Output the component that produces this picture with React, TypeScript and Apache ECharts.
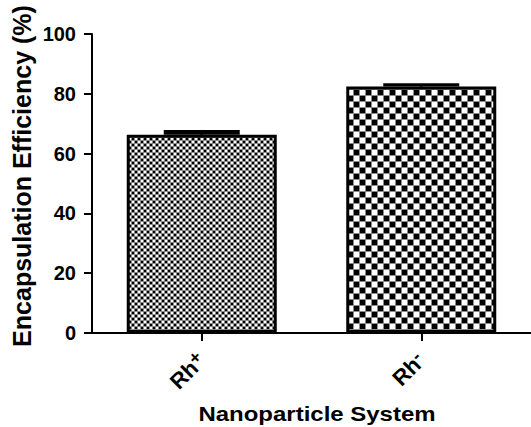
import React, { useEffect, useRef } from "react";
import * as echarts from "echarts";

const categories = ["Rh+", "Rh-"];
const labelText = ["Rh{sup|+}", "Rh{sup|-}"];
const values = [66.3, 82.4];
const errors = [1.1, 0.6];
const yTicks = { min: 0, max: 100, interval: 20 };

function makeTile(cell: number): HTMLCanvasElement {
  const c = document.createElement("canvas");
  c.width = cell * 2;
  c.height = cell * 2;
  const ctx = c.getContext("2d")!;
  ctx.fillStyle = "#ffffff";
  ctx.fillRect(0, 0, cell * 2, cell * 2);
  ctx.fillStyle = "#000000";
  ctx.fillRect(0, 0, cell, cell);
  ctx.fillRect(cell, cell, cell, cell);
  ctx.fillStyle = "#8a8a8a";
  ctx.fillRect(cell - 1, 0, 1, cell * 2);
  ctx.fillRect(cell * 2 - 1, 0, 1, cell * 2);
  ctx.fillRect(0, cell - 1, cell * 2, 1);
  ctx.fillRect(0, cell * 2 - 1, cell * 2, 1);
  return c;
}

export default function App() {
  const ref = useRef<HTMLDivElement>(null);
  useEffect(() => {
    if (!ref.current) return;
    const chart = echarts.init(ref.current, null, { renderer: "svg" });
    const fine = makeTile(3);
    const coarse = makeTile(6);
    const patterns = [
      { image: fine, repeat: "repeat", imageWidth: 6, imageHeight: 6 },
      { image: coarse, repeat: "repeat", imageWidth: 12, imageHeight: 12 },
    ];
    const font = "'Liberation Sans', Arial, sans-serif";
    chart.setOption({
      animation: false,
      textStyle: { fontFamily: font },
      grid: { left: 92, top: 34, width: 449, height: 299, containLabel: false },
      xAxis: {
        type: "category",
        data: categories,
        axisLine: { show: true, lineStyle: { color: "#000", width: 2 } },
        axisTick: { show: true, alignWithLabel: true, length: 8, lineStyle: { color: "#000", width: 2 } },
        axisLabel: {
          rotate: 45,
          margin: 24,
          color: "#000",
          fontFamily: font,
          fontWeight: "bold",
          fontSize: 22,
          formatter: (_v: string, i: number) => labelText[i],
          rich: {
            sup: {
              fontSize: 18,
              fontWeight: "bold",
              fontFamily: font,
              color: "#000",
              verticalAlign: "bottom",
              padding: [0, 0, 9, 0],
            },
          },
        },
      },
      yAxis: {
        type: "value",
        min: yTicks.min,
        max: yTicks.max,
        interval: yTicks.interval,
        splitLine: { show: false },
        axisLine: { show: true, lineStyle: { color: "#000", width: 2 } },
        axisTick: { show: true, length: 8, lineStyle: { color: "#000", width: 2 } },
        axisLabel: { color: "#000", fontFamily: font, fontWeight: "bold", fontSize: 20, margin: 16 },
      },
      graphic: [
        {
          type: "text",
          x: 34,
          y: 176,
          rotation: Math.PI / 2,
          style: {
            text: "Encapsulation Efficiency (%)",
            font: `bold 25px ${font}`,
            fill: "#000",
            align: "center",
            verticalAlign: "bottom",
          },
        },
        {
          type: "text",
          x: 317,
          y: 414,
          scaleX: 1.17,
          style: {
            text: "Nanoparticle System",
            font: `bold 20.5px ${font}`,
            fill: "#000",
            align: "center",
            verticalAlign: "middle",
          },
        },
      ],
      series: [
        {
          type: "bar",
          barWidth: 150,
          data: values.map((v, i) => ({
            value: v,
            itemStyle: { color: patterns[i], borderColor: "#000", borderWidth: 3 },
          })),
        },
        {
          type: "custom",
          z: 5,
          data: values.map((v, i) => [i, v, errors[i]]),
          renderItem: (params: any, api: any) => {
            const x = api.value(0);
            const v = api.value(1);
            const e = api.value(2);
            const base = api.coord([x, v]);
            const top = api.coord([x, v + e]);
            const half = 38;
            return {
              type: "group",
              children: [
                {
                  type: "line",
                  shape: { x1: base[0], y1: base[1], x2: top[0], y2: top[1] },
                  style: { stroke: "#000", lineWidth: 3 },
                },
                {
                  type: "rect",
                  shape: { x: top[0] - half, y: top[1] - 1.5, width: half * 2, height: base[1] - top[1] + 1.5 },
                  style: { fill: "#000" },
                },
              ],
            };
          },
        },
      ],
    });
    return () => chart.dispose();
  }, []);
  return <div ref={ref} style={{ width: 531, height: 427, position: "absolute", left: 0, top: 0, background: "#fff" }} />;
}
